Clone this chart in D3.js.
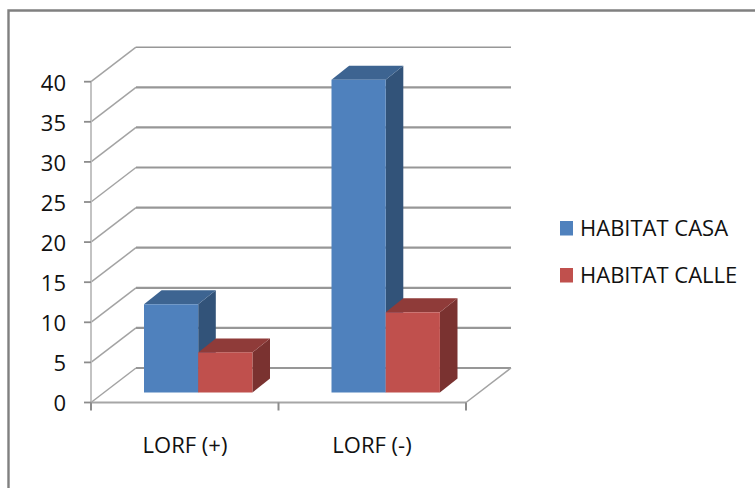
<!DOCTYPE html>
<html>
<head>
<meta charset="utf-8">
<script src="https://cdnjs.cloudflare.com/ajax/libs/d3/7.8.5/d3.min.js"></script>
<style>
html, body { margin: 0; padding: 0; background: #fff; }
svg { display: block; }
text { font-family: "Open Sans", Lato, sans-serif; fill: #111; }
</style>
</head>
<body>
<svg id="chart" width="755" height="488"></svg>
<script>
// Chart data
const categories = ["LORF (+)", "LORF (-)"];
const seriesNames = ["HABITAT CASA", "HABITAT CALLE"];
const casaValues = [11, 39];
const calleValues = [5, 10];
const yTicks = [0, 5, 10, 15, 20, 25, 30, 35, 40];

// Palette: front, top and side faces per series
const faces = [
  { front: "#4f81bd", top: "#3d6491", side: "#325379" },
  { front: "#c0504d", top: "#8f3b39", side: "#7a3230" }
];
const gridColor = "#979797";
const labelSize = 22;

const svg = d3.select("#chart");

// Oblique projection of the chart's floor and walls
const wallDx = 45, wallDy = -34.5;
const barDx = 17.6, barDy = -14;
const floorGap = 10; // bars stand this far behind the front edge of the floor

const y = d3.scaleLinear().domain([0, 40]).range([402.5, 81.7]);
const x0 = d3.scaleBand().domain(categories).range([91, 466]);
const barWidth = 54.2;
const groupInset = 53;

// Outer frame, open toward the right and bottom edges of the page
svg.append("path")
  .attr("d", "M8.5,488V10.5H755")
  .attr("fill", "none").attr("stroke", "#808080").attr("stroke-width", 2.4);

// Gridlines: thin slanted section on the side wall, heavier run along the back wall
const grid = svg.append("g").attr("fill", "none");
grid.selectAll(".wall").data(yTicks).join("path").attr("class", "wall")
  .attr("stroke", "#a3a3a3").attr("stroke-width", 1.5)
  .attr("d", d => `M91,${y(d)}L${91 + wallDx},${y(d) + wallDy}`);
grid.selectAll(".back").data(yTicks).join("path").attr("class", "back")
  .attr("stroke", gridColor).attr("stroke-width", d => d === 40 ? 1.6 : 2.2)
  .attr("d", d => `M${91 + wallDx},${y(d) + wallDy}H${466 + wallDx}`);

// Floor front-right edge rising to the back wall
grid.append("path")
  .attr("d", `M466,${y(0)}L${466 + wallDx},${y(0) + wallDy}`)
  .attr("stroke", "#a3a3a3").attr("stroke-width", 1.5);

// Value axis line, category axis line and their tick marks
const axes = svg.append("g").attr("stroke", "#a6a6a6").attr("fill", "none");
axes.append("path").attr("d", `M91,${y(40)}V${y(0)}`).attr("stroke", "#bdbdbd").attr("stroke-width", 1.8);
axes.append("path").attr("d", `M91,${y(0)}H466`).attr("stroke-width", 2);
axes.selectAll(".ytick").data(yTicks).join("path").attr("class", "ytick")
  .attr("stroke", "#8c8c8c").attr("stroke-width", 1.8)
  .attr("d", d => `M84,${y(d)}H91`);
axes.selectAll(".xtick").data([...categories.map(c => x0(c)), x0.range()[1]]).join("path").attr("class", "xtick")
  .attr("stroke", "#8c8c8c").attr("stroke-width", 2)
  .attr("d", d => `M${d},${y(0)}v8`);

// Value axis labels
svg.append("g").selectAll("text").data(yTicks).join("text")
  .attr("x", 66).attr("y", d => y(d) + 1)
  .attr("dy", "0.36em").attr("text-anchor", "end")
  .attr("font-size", labelSize)
  .text(d => d);

// Category labels
svg.append("g").selectAll("text").data(categories).join("text")
  .attr("x", (c, i) => x0(c) + 94 - i * 0.5).attr("y", 453)
  .attr("text-anchor", "middle").attr("font-size", labelSize)
  .text(c => c);

// Draws one 3D column; its base sits floorGap above the floor's front edge
function column(g, left, value, face) {
  const bottom = y(0) - floorGap;
  const top = bottom - (y(0) - y(value));
  const right = left + barWidth;
  g.append("path").attr("fill", face.side)
    .attr("d", `M${right},${top}l${barDx},${barDy}V${bottom + barDy}L${right},${bottom}Z`);
  g.append("path").attr("fill", face.top)
    .attr("d", `M${left},${top}l${barDx},${barDy}H${right + barDx}L${right},${top}Z`);
  g.append("rect").attr("fill", face.front)
    .attr("x", left).attr("y", top)
    .attr("width", barWidth).attr("height", bottom - top);
}

// Columns, drawn series by series inside each category
const bars = svg.append("g");
categories.forEach((c, i) => {
  const left = x0(c) + groupInset;
  column(bars, left, casaValues[i], faces[0]);
  column(bars, left + barWidth, calleValues[i], faces[1]);
});

// Legend
const legend = svg.append("g").selectAll("g").data(seriesNames).join("g")
  .attr("transform", (d, i) => `translate(560,${221 + i * 47})`);
legend.append("rect").attr("width", 13).attr("height", 14.5)
  .attr("fill", (d, i) => faces[i].front);
legend.append("text").attr("x", 20).attr("y", 7).attr("dy", "0.36em")
  .attr("font-size", labelSize)
  .text(d => d);
</script>
</body>
</html>
